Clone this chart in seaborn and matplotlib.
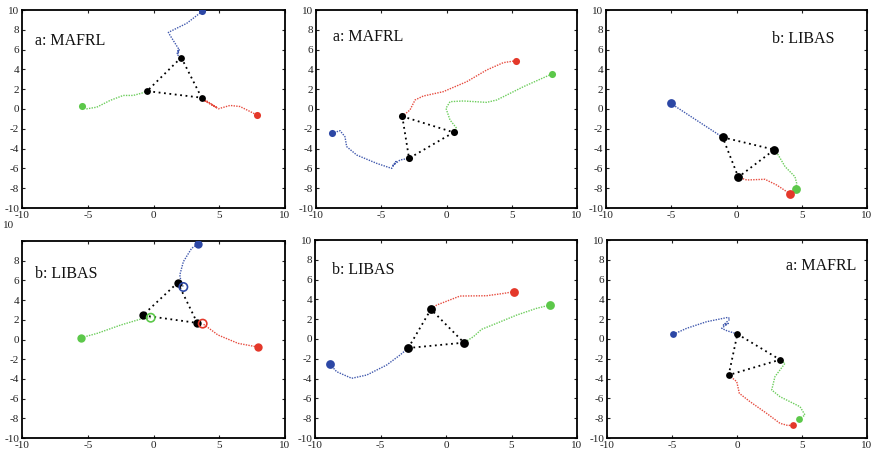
import matplotlib
matplotlib.use("Agg")
import matplotlib.pyplot as plt
import seaborn as sns
import pandas as pd

# Colours of the three agents and the formation
BLUE = "#2c47a5"
GREEN = "#5cc84a"
RED = "#e4382a"
BLACK = "#000000"

# Trajectories: each list runs from the start point to the final position
P1_BLUE = [(3.71, 9.87), (2.52, 8.65), (1.13, 7.74), (1.25, 7.46), (1.89, 6.11),
           (1.81, 5.6), (1.95, 6.0), (1.85, 5.45), (2.11, 5.2)]
P1_GREEN = [(-5.46, 0.28), (-5.08, 0.02), (-4.32, 0.18), (-3.31, 0.86), (-2.3, 1.37),
            (-1.54, 1.37), (-0.9, 1.6), (-0.49, 1.81)]
P1_RED = [(7.85, -0.59), (6.58, 0.25), (5.82, 0.36), (4.93, 0.02), (3.75, 0.95),
          (4.85, 0.12), (3.66, 1.14)]
P1_BLACK = [(2.11, 5.2), (-0.49, 1.81), (3.66, 1.14)]

P2_BLUE = [(-8.8, -2.46), (-8.16, -2.19), (-7.78, -2.8), (-7.65, -3.8), (-6.88, -4.65),
           (-5.35, -5.49), (-4.2, -6.0), (-3.87, -5.3), (-4.1, -5.7), (-3.56, -5.15),
           (-2.87, -4.98)]
P2_GREEN = [(8.08, 3.54), (5.89, 2.25), (3.85, 0.91), (3.08, 0.67), (1.29, 0.81),
            (0.27, 0.74), (-0.04, 0.07), (0.27, -1.11), (0.78, -1.95), (0.55, -2.36)]
P2_RED = [(5.33, 4.88), (4.35, 4.68), (3.08, 3.94), (1.55, 2.76), (-0.25, 1.75),
          (-1.78, 1.31), (-2.41, 0.91), (-2.8, -0.1), (-3.39, -0.74)]
P2_BLACK = [(-3.39, -0.74), (0.55, -2.36), (-2.87, -4.98)]

P3_BLUE = [(-5.04, 0.57), (-1.06, -2.86)]
P3_GREEN = [(4.56, -8.05), (4.61, -7.5), (4.48, -6.84), (3.72, -5.82), (3.2, -4.65),
            (2.9, -4.11)]
P3_RED = [(4.12, -8.56), (3.85, -8.35), (3.08, -7.68), (2.18, -7.1), (0.78, -7.17),
          (0.14, -6.88)]
P3_BLACK = [(-1.06, -2.86), (2.9, -4.11), (0.14, -6.88)]

P4_BLUE = [(3.36, 9.66), (2.9, 9.26), (2.27, 7.9), (2.0, 6.55), (2.1, 5.8), (2.27, 5.33)]
P4_GREEN = [(-5.49, 0.18), (-4.27, 0.63), (-2.49, 1.47), (-0.96, 2.08), (-0.21, 2.21)]
P4_RED = [(7.91, -0.76), (6.43, -0.39), (4.9, 0.46), (3.74, 1.61)]
P4_BLACK = [(1.84, 5.77), (-0.82, 2.45), (3.33, 1.68)]

P5_BLUE = [(-8.85, -2.56), (-8.35, -3.3), (-7.2, -3.97), (-6.05, -3.64), (-4.53, -2.63),
           (-3.51, -1.62), (-2.88, -0.91)]
P5_GREEN = [(7.94, 3.43), (6.92, 3.1), (5.4, 2.42), (3.87, 1.59), (2.72, 0.98),
            (2.09, 0.23), (1.37, -0.37)]
P5_RED = [(5.19, 4.78), (4.37, 4.6), (3.1, 4.37), (1.07, 4.34), (-0.71, 3.43),
          (-1.15, 3.0)]
P5_BLACK = [(-2.88, -0.91), (-1.15, 3.0), (1.37, -0.37)]

P6_BLUE = [(-4.9, 0.47), (-3.87, 1.08), (-2.33, 1.75), (-0.67, 2.19), (-0.55, 2.0),
           (-1.05, 1.41), (-0.67, 1.58), (-1.18, 1.08), (-0.79, 0.84), (0.03, 0.5)]
P6_GREEN = [(4.74, -8.11), (5.23, -7.68), (4.85, -6.84), (3.31, -5.83), (2.67, -5.15),
            (2.92, -3.8), (3.69, -2.46), (3.31, -2.09)]
P6_RED = [(4.28, -8.65), (3.95, -8.75), (3.31, -8.52), (2.28, -7.51), (1.0, -6.33),
          (0.18, -5.49), (-0.02, -4.31), (-0.64, -3.64)]
P6_BLACK = [(0.03, 0.5), (3.31, -2.09), (-0.64, -3.64)]

LABELS = ["a: MAFRL", "a: MAFRL", "b: LIBAS", "b: LIBAS", "b: LIBAS", "a: MAFRL"]
X_TICKS = [-10, -5, 0, 5, 10]
Y_TICKS = [-10, -8, -6, -4, -2, 0, 2, 4, 6, 8, 10]

sns.set_style("ticks")
plt.rcParams["font.family"] = ["Liberation Serif", "DejaVu Serif"]
plt.rcParams["axes.unicode_minus"] = False
plt.rcParams["xtick.direction"] = "in"
plt.rcParams["ytick.direction"] = "in"
plt.rcParams["xtick.top"] = True
plt.rcParams["ytick.right"] = True

W, H = 872, 453
TICK_FS = 8
fig = plt.figure(figsize=(W / 100, H / 100), dpi=100)
fig.patch.set_facecolor("white")

# Axes boxes in pixels: left, top, right, bottom
boxes = [(22, 10, 285, 208), (316, 10, 577, 208), (606, 10, 867, 208),
         (22, 241, 285, 438), (315, 240, 577, 438), (607, 240, 867, 438)]


def make_ax(box):
    l, t, r, b = box
    ax = fig.add_axes([l / W, 1 - b / H, (r - l) / W, (b - t) / H])
    ax.set_xlim(-10, 10)
    ax.set_ylim(-10, 10)
    ax.set_xticks(X_TICKS)
    ax.set_yticks(Y_TICKS)
    ax.tick_params(labelsize=TICK_FS, length=2.5, width=0.8, pad=2, colors="#222222")
    for s in ax.spines.values():
        s.set_linewidth(1.3)
        s.set_color("black")
    ax.set_facecolor("white")
    return ax


def path_line(ax, pts, color, lw=1.0, dash=(0, (1.0, 0.9)), z=2, alpha=0.9):
    df = pd.DataFrame(pts, columns=["x", "y"])
    sns.lineplot(data=df, x="x", y="y", sort=False, estimator=None, color=color,
                 linewidth=lw, linestyle=dash, ax=ax, zorder=z, alpha=alpha)


def dots(ax, pts, color, size, z=5):
    df = pd.DataFrame(pts, columns=["x", "y"])
    sns.scatterplot(data=df, x="x", y="y", color=color, s=size, linewidth=0,
                    ax=ax, zorder=z)


def panel(ax, blue, green, red, black, start_s, black_s):
    for pts, col in ((blue, BLUE), (green, GREEN), (red, RED)):
        path_line(ax, pts, col)
        dots(ax, [pts[0]], col, start_s)
    path_line(ax, black + [black[0]], BLACK, lw=1.3, dash=(0, (1.0, 2.0)), z=3, alpha=1)
    dots(ax, black, BLACK, black_s, z=6)
    ax.set_xlabel("")
    ax.set_ylabel("")


data = [(P1_BLUE, P1_GREEN, P1_RED, P1_BLACK, 26, 24),
        (P2_BLUE, P2_GREEN, P2_RED, P2_BLACK, 26, 26),
        (P3_BLUE, P3_GREEN, P3_RED, P3_BLACK, 40, 40),
        (P4_BLUE, P4_GREEN, P4_RED, P4_BLACK, 36, 36),
        (P5_BLUE, P5_GREEN, P5_RED, P5_BLACK, 40, 40),
        (P6_BLUE, P6_GREEN, P6_RED, P6_BLACK, 24, 24)]

label_pos = [(-9.0, 6.85, "left"), (-8.7, 7.3, "left"), (7.5, 7.05, "right"),
             (-9.0, 6.6, "left"), (-8.7, 6.97, "left"), (9.2, 7.4, "right")]

axes = []
for i, (box, d) in enumerate(zip(boxes, data)):
    ax = make_ax(box)
    panel(ax, *d)
    x, y, ha = label_pos[i]
    ax.text(x, y, LABELS[i], ha=ha, va="center", fontsize=11.5, color="#111111")
    axes.append(ax)

# Final agent positions drawn as hollow circles in the lower-left panel
for pts, col in ((P4_BLUE, BLUE), (P4_GREEN, GREEN), (P4_RED, RED)):
    axes[3].scatter([pts[-1][0]], [pts[-1][1]], s=36, facecolors="none",
                    edgecolors=col, linewidths=1.2, zorder=7)

# Lower-left panel: its top y label sits above the frame
axes[3].set_yticklabels(["" if v == 10 else str(v) for v in Y_TICKS])
fig.text(9 / W, 1 - 226 / H, "10", fontsize=TICK_FS, ha="center", va="center",
         color="#222222")

fig.savefig("out.png", dpi=100, facecolor="white")
